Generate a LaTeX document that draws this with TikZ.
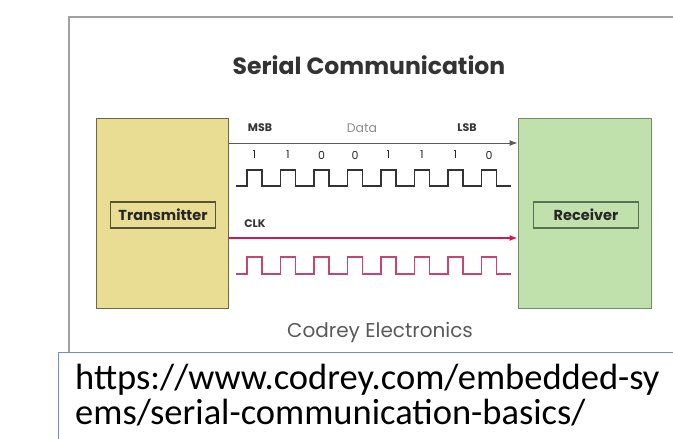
\documentclass[tikz,border=0pt]{standalone}
\usepackage{fontspec}
\setmainfont{Poppins}
\newfontfamily\urlfont{Carlito}
\usepackage{tikz}
\usetikzlibrary{positioning,arrows.meta}

\definecolor{txfill}{RGB}{232,221,146}
\definecolor{txdraw}{RGB}{110,104,70}
\definecolor{rxfill}{RGB}{192,225,172}
\definecolor{rxdraw}{RGB}{112,140,104}
\definecolor{clkred}{RGB}{214,22,84}
\definecolor{clkwave}{RGB}{200,70,110}
\definecolor{frame}{RGB}{160,160,160}
\definecolor{urlblue}{RGB}{110,145,205}

\begin{document}
\begin{tikzpicture}[x=1pt,y=-1pt,
	unit/.style={rectangle, minimum width=132pt, minimum height=190pt, inner sep=0pt},
	tag/.style={rectangle, minimum width=105pt, minimum height=26pt, inner sep=0pt,
		line width=1.6pt, font=\fontsize{14.5}{16}\selectfont\bfseries, text=black!85},
	small/.style={font=\fontsize{11}{12}\selectfont\bfseries, text=black!80},
	bit/.style={font=\fontsize{11}{12}\selectfont, text=black!85},
	dataline/.style={draw=black!65, line width=1pt, -{Latex[length=8pt,width=6pt]}},
	clkline/.style={draw=clkred, line width=1.1pt, -{Latex[length=8pt,width=6pt]}},
	datawave/.style={draw=black!80, line width=1.6pt},
	clockwave/.style={draw=clkwave, line width=1.6pt}
	]
	\useasboundingbox (0,0) rectangle (673,439);
	\clip (0,0) rectangle (673,439);
	% screenshot frame and caption box
	\draw[frame, line width=1.5pt] (673,17) -- (69,17) -- (69,352);
	\draw[urlblue, line width=1pt] (673,352) -- (58,352) -- (58,439);

	\node (title) at (369,65) {\fontsize{23.5}{26}\selectfont\bfseries\color{black!80}Serial Communication};

	\node (tx) [unit, fill=txfill, draw=txdraw, line width=1pt] at (162,213) {};
	\node (rx) [unit, fill=rxfill, draw=rxdraw, line width=1pt, minimum width=133pt] at (584.5,213) {};
	\node (txtag) [tag, fill=txfill, draw=txdraw!80!black] at (163,215) {Transmitter};
	\node (rxtag) [tag, fill=rxfill, draw=rxdraw!80!black] at (586,215) {Receiver};

	% data line
	\coordinate (d0) at (tx.east |- 0,143);
	\coordinate (d1) at (rx.west |- 0,143);
	\draw[dataline] (d0) -- (d1);
	\node (msb) [small] at (260,128) {MSB};
	\node (data) [font=\fontsize{12.5}{14}\selectfont, text=black!45] at (362,128) {Data};
	\node (lsb) [small] at (467,128) {LSB};
	\foreach \b [count=\i from 0] in {1,1,0,0,1,1,1,0}
		\node (bit\i) [bit] at ({254.5+33.5*\i},155) {\b};
	\coordinate (w0) at (236,186);
	\coordinate (w1) at (511,186);
	\draw[datawave] (w0) \foreach \i in {0,...,7}{ -- ({247+33.5*\i},186) -- ++(0,-16) -- ++(15,0) -- ++(0,16) } -- (w1);

	% clock line
	\coordinate (c0) at (tx.east |- 0,238);
	\coordinate (c1) at (rx.west |- 0,238);
	\draw[clkline] (c0) -- (c1);
	\node (clk) [small] at (255,224) {CLK};
	\coordinate (k0) at (236,274);
	\coordinate (k1) at (511,274);
	\draw[clockwave] (k0) \foreach \i in {0,...,7}{ -- ({247+33.5*\i},274) -- ++(0,-17) -- ++(15,0) -- ++(0,17) } -- (k1);

	\node (brand) [font=\fontsize{20}{23}\selectfont, text=black!65] at (380,332) {Codrey Electronics};

	% link
	\node (url1) [anchor=base west, inner sep=0pt, font=\urlfont\fontsize{36.5}{40}\selectfont] at (75,389) {https://www.codrey.com/embedded-sy};
	\node (url2) [anchor=base west, inner sep=0pt, font=\urlfont\fontsize{36.5}{40}\selectfont] at (75,424) {ems/serial-communication-basics/};
\end{tikzpicture}
\end{document}
